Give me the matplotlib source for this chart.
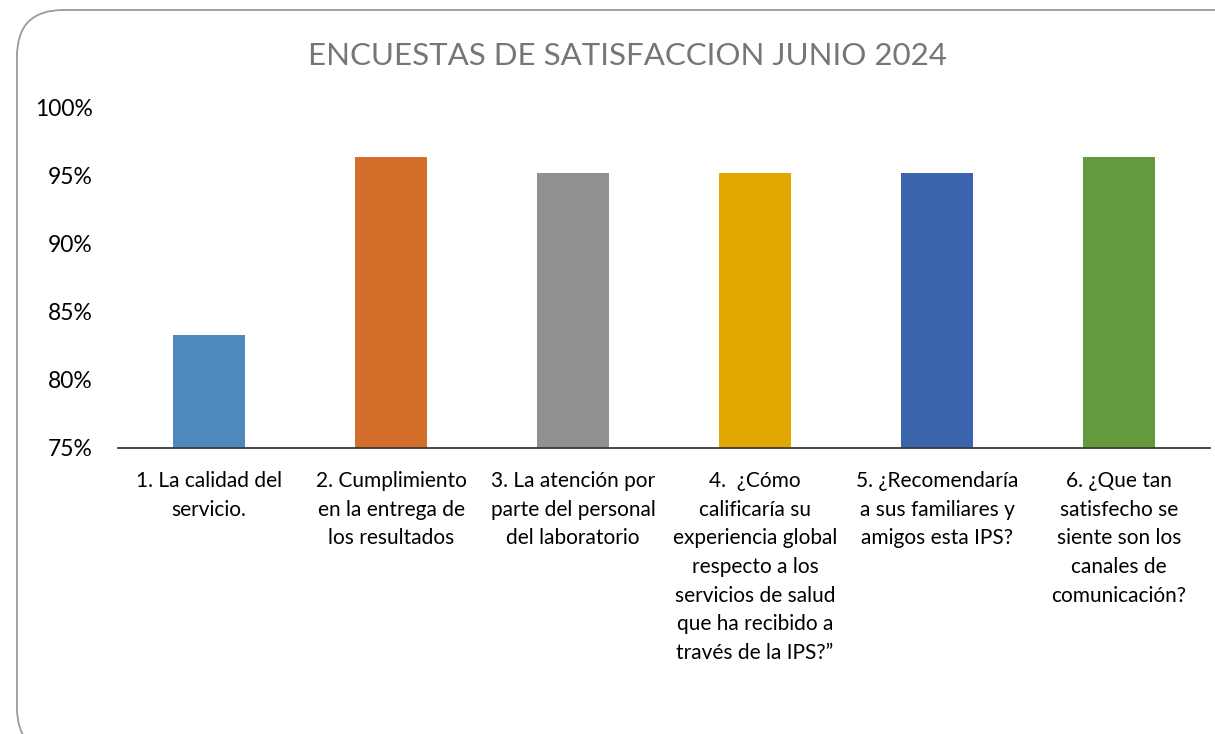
import matplotlib.pyplot as plt
from matplotlib.patches import FancyBboxPatch
from matplotlib.ticker import PercentFormatter

plt.rcParams['font.family'] = ['Lato', 'DejaVu Sans']

labels = [
    "1. La calidad del\nservicio.",
    "2. Cumplimiento\nen la entrega de\nlos resultados",
    "3. La atención por\nparte del personal\ndel laboratorio",
    "4.  ¿Cómo\ncalificaría su\nexperiencia global\nrespecto a los\nservicios de salud\nque ha recibido a\ntravés de la IPS?”",
    "5. ¿Recomendaría\na sus familiares y\namigos esta IPS?",
    "6. ¿Que tan\nsatisfecho se\nsiente son los\ncanales de\ncomunicación?",
]
values = [0.833, 0.964, 0.952, 0.952, 0.952, 0.964]
colors = ["#4F88BC", "#D36E2B", "#919191", "#E1A800", "#3C64AC", "#629A3D"]

W, H = 1215, 734
fig = plt.figure(figsize=(W / 100, H / 100), dpi=100)
ax = fig.add_axes([118 / W, 1 - 447.5 / H, (1210 - 118) / W, (447.5 - 108) / H])

x = range(len(values))
ax.bar(x, values, width=0.4, color=colors)
ax.set_xlim(-0.5, len(values) - 0.5)
ax.set_ylim(0.75, 1.0)
ax.set_yticks([0.75, 0.80, 0.85, 0.90, 0.95, 1.0])
ax.yaxis.set_major_formatter(PercentFormatter(1.0, decimals=0))
ax.set_xticks(list(x))
ax.set_xticklabels(labels, fontsize=15, linespacing=1.54, va='top')
ax.tick_params(axis='both', length=0)
ax.tick_params(axis='y', labelsize=16.5, pad=18)
ax.tick_params(axis='x', pad=17)

for s in ['top', 'right', 'left']:
    ax.spines[s].set_visible(False)
ax.spines['bottom'].set_color('#3a3a3a')
ax.spines['bottom'].set_linewidth(1.3)

fig.text(628 / W, 1 - 56 / H, "ENCUESTAS DE SATISFACCION JUNIO 2024",
         ha='center', va='center', fontsize=22.5, color='#767676')

# rounded chart frame, partly off the canvas
frame = FancyBboxPatch((17 / W, -20 / H), 1300 / W, (H - 10 + 20) / H,
                       boxstyle="round,pad=0,rounding_size=0.038",
                       transform=fig.transFigure, fill=False,
                       edgecolor='#9a9a9a', linewidth=1.3,
                       mutation_aspect=W / H)
fig.patches.append(frame)

fig.savefig("out.png", dpi=100)
